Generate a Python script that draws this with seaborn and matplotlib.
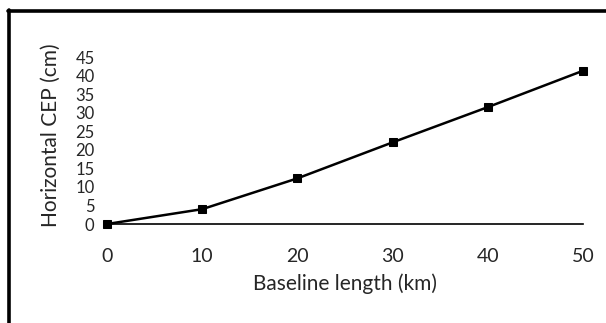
import matplotlib
matplotlib.use("Agg")
import matplotlib.pyplot as plt
from matplotlib.lines import Line2D
import seaborn as sns
import pandas as pd

# baseline length (km) vs horizontal CEP (cm)
baseline_km = [0, 10, 20, 30, 40, 50]
cep_cm = [0.0, 4.0, 12.3, 22.0, 31.5, 41.3]
y_ticks = [0, 5, 10, 15, 20, 25, 30, 35, 40, 45]
x_ticks = [0, 10, 20, 30, 40, 50]

sns.set_style("white")
plt.rcParams['font.family'] = ['Lato', 'DejaVu Sans']

df = pd.DataFrame({"baseline": baseline_km, "cep": cep_cm})

fig = plt.figure(figsize=(6.06, 3.23), dpi=100)
ax = fig.add_axes([0.1766, 0.3065, 0.7855, 0.517])

sns.lineplot(data=df, x="baseline", y="cep", ax=ax, color="black",
             linewidth=1.8, marker="s", markersize=5.5, markeredgecolor="black",
             clip_on=False)

ax.set_xlim(0, 50)
ax.set_ylim(0, 45)
ax.set_xticks(x_ticks)
ax.set_yticks(y_ticks)
ax.tick_params(axis="x", length=0, pad=17, labelsize=14)
ax.tick_params(axis="y", length=5, width=1.2, color="black", direction="out",
               pad=4, labelsize=12)

for side in ["top", "right", "left"]:
    ax.spines[side].set_visible(False)
ax.spines["bottom"].set_color("black")
ax.spines["bottom"].set_linewidth(1.2)

ax.set_xlabel("Baseline length (km)", fontsize=15, labelpad=6)
ax.set_ylabel("Horizontal CEP (cm)", fontsize=15)
# label column centred near x = 48 px in the figure
ax.yaxis.set_label_coords(-0.098, 0.53)

# heavy frame lines at top and left of the figure
fig.add_artist(Line2D([8 / 606, 1.0], [1 - 11 / 323, 1 - 11 / 323],
                      transform=fig.transFigure, color="black", linewidth=2.6))
fig.add_artist(Line2D([8.5 / 606, 8.5 / 606], [1 - 10 / 323, 0.0],
                      transform=fig.transFigure, color="black", linewidth=2.6))

fig.savefig("out.png", dpi=100)
